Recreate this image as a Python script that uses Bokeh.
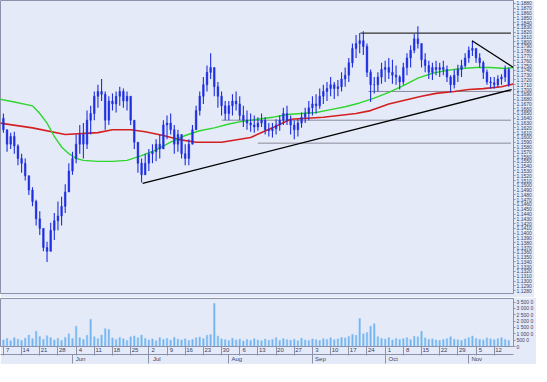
import pandas as pd
from bokeh.plotting import figure
from bokeh.layouts import column
from bokeh.models import (Range1d, LinearAxis, FixedTicker, SingleIntervalTicker,
                          PrintfTickFormatter, Label, ColumnDataSource)
from bokeh.embed import file_html
from bokeh.resources import INLINE

# ---------------- data ----------------
start_date = "2018-05-07"

open_ = [1.1640, 1.1616, 1.1586, 1.1602, 1.1582, 1.1556, 1.1546, 1.1520, 1.1490, 1.1466,
         1.1430, 1.1410, 1.1370, 1.1362, 1.1406, 1.1426, 1.1436, 1.1456, 1.1486, 1.1530,
         1.1556, 1.1586, 1.1606, 1.1586, 1.1636, 1.1650, 1.1686, 1.1696, 1.1690, 1.1636,
         1.1676, 1.1670, 1.1686, 1.1696, 1.1676, 1.1686, 1.1636, 1.1590, 1.1546, 1.1522,
         1.1546, 1.1566, 1.1570, 1.1586, 1.1576, 1.1626, 1.1630, 1.1616, 1.1586, 1.1606,
         1.1566, 1.1556, 1.1586, 1.1616, 1.1656, 1.1686, 1.1710, 1.1736, 1.1746, 1.1706,
         1.1686, 1.1666, 1.1650, 1.1666, 1.1676, 1.1670, 1.1646, 1.1636, 1.1630, 1.1626,
         1.1622, 1.1630, 1.1636, 1.1616, 1.1614, 1.1618, 1.1626, 1.1636, 1.1650, 1.1636,
         1.1626, 1.1616, 1.1630, 1.1642, 1.1650, 1.1662, 1.1670, 1.1666, 1.1686, 1.1696,
         1.1702, 1.1710, 1.1702, 1.1706, 1.1722, 1.1730, 1.1756, 1.1786, 1.1796, 1.1802,
         1.1790, 1.1736, 1.1710, 1.1710, 1.1726, 1.1742, 1.1746, 1.1736, 1.1730, 1.1726,
         1.1716, 1.1746, 1.1766, 1.1782, 1.1806, 1.1796, 1.1762, 1.1750, 1.1736, 1.1746,
         1.1742, 1.1746, 1.1742, 1.1726, 1.1710, 1.1730, 1.1742, 1.1750, 1.1766, 1.1782,
         1.1786, 1.1766, 1.1756, 1.1736, 1.1716, 1.1714, 1.1710, 1.1722, 1.1726, 1.1742]

high = [1.1650, 1.1616, 1.1610, 1.1612, 1.1586, 1.1566, 1.1556, 1.1520, 1.1496, 1.1470,
        1.1446, 1.1410, 1.1382, 1.1422, 1.1442, 1.1466, 1.1476, 1.1502, 1.1546, 1.1570,
        1.1606, 1.1626, 1.1630, 1.1656, 1.1666, 1.1696, 1.1710, 1.1722, 1.1696, 1.1686,
        1.1692, 1.1696, 1.1706, 1.1702, 1.1696, 1.1686, 1.1636, 1.1590, 1.1556, 1.1566,
        1.1576, 1.1586, 1.1596, 1.1606, 1.1636, 1.1646, 1.1650, 1.1626, 1.1616, 1.1606,
        1.1586, 1.1596, 1.1626, 1.1666, 1.1696, 1.1726, 1.1750, 1.1776, 1.1746, 1.1716,
        1.1696, 1.1676, 1.1676, 1.1690, 1.1696, 1.1686, 1.1666, 1.1656, 1.1650, 1.1646,
        1.1642, 1.1650, 1.1642, 1.1630, 1.1630, 1.1638, 1.1646, 1.1662, 1.1666, 1.1646,
        1.1636, 1.1638, 1.1652, 1.1662, 1.1676, 1.1686, 1.1690, 1.1702, 1.1710, 1.1716,
        1.1726, 1.1716, 1.1720, 1.1736, 1.1746, 1.1766, 1.1796, 1.1814, 1.1818, 1.1822,
        1.1796, 1.1742, 1.1726, 1.1736, 1.1756, 1.1760, 1.1766, 1.1762, 1.1750, 1.1730,
        1.1756, 1.1776, 1.1792, 1.1816, 1.1832, 1.1796, 1.1776, 1.1760, 1.1756, 1.1760,
        1.1756, 1.1760, 1.1750, 1.1730, 1.1742, 1.1752, 1.1762, 1.1776, 1.1790, 1.1802,
        1.1786, 1.1776, 1.1760, 1.1742, 1.1726, 1.1726, 1.1730, 1.1732, 1.1750, 1.1746]

low = [1.1610, 1.1570, 1.1576, 1.1566, 1.1542, 1.1526, 1.1510, 1.1480, 1.1456, 1.1416,
       1.1396, 1.1362, 1.1340, 1.1362, 1.1386, 1.1406, 1.1416, 1.1442, 1.1486, 1.1522,
       1.1546, 1.1566, 1.1556, 1.1576, 1.1606, 1.1636, 1.1662, 1.1676, 1.1616, 1.1626,
       1.1656, 1.1652, 1.1666, 1.1662, 1.1656, 1.1626, 1.1576, 1.1526, 1.1506, 1.1522,
       1.1530, 1.1546, 1.1550, 1.1556, 1.1576, 1.1596, 1.1606, 1.1566, 1.1570, 1.1556,
       1.1542, 1.1542, 1.1586, 1.1616, 1.1646, 1.1670, 1.1696, 1.1722, 1.1686, 1.1662,
       1.1646, 1.1636, 1.1636, 1.1646, 1.1656, 1.1636, 1.1622, 1.1616, 1.1612, 1.1610,
       1.1614, 1.1622, 1.1606, 1.1602, 1.1600, 1.1606, 1.1614, 1.1626, 1.1626, 1.1606,
       1.1596, 1.1602, 1.1620, 1.1630, 1.1636, 1.1646, 1.1650, 1.1660, 1.1670, 1.1676,
       1.1686, 1.1680, 1.1686, 1.1696, 1.1706, 1.1716, 1.1746, 1.1766, 1.1776, 1.1772,
       1.1726, 1.1674, 1.1692, 1.1696, 1.1712, 1.1716, 1.1722, 1.1712, 1.1710, 1.1700,
       1.1710, 1.1730, 1.1746, 1.1776, 1.1786, 1.1746, 1.1736, 1.1722, 1.1720, 1.1730,
       1.1726, 1.1730, 1.1716, 1.1694, 1.1702, 1.1716, 1.1726, 1.1746, 1.1756, 1.1770,
       1.1756, 1.1746, 1.1722, 1.1710, 1.1702, 1.1702, 1.1706, 1.1710, 1.1716, 1.1706]

close = [1.1616, 1.1586, 1.1602, 1.1582, 1.1556, 1.1546, 1.1520, 1.1490, 1.1466, 1.1430,
         1.1410, 1.1370, 1.1362, 1.1406, 1.1426, 1.1436, 1.1456, 1.1486, 1.1530, 1.1556,
         1.1586, 1.1606, 1.1586, 1.1636, 1.1650, 1.1686, 1.1696, 1.1690, 1.1636, 1.1676,
         1.1670, 1.1686, 1.1696, 1.1676, 1.1686, 1.1636, 1.1590, 1.1546, 1.1522, 1.1546,
         1.1566, 1.1570, 1.1586, 1.1576, 1.1626, 1.1630, 1.1616, 1.1586, 1.1606, 1.1566,
         1.1556, 1.1586, 1.1616, 1.1656, 1.1686, 1.1710, 1.1736, 1.1746, 1.1706, 1.1686,
         1.1666, 1.1650, 1.1666, 1.1676, 1.1670, 1.1646, 1.1636, 1.1630, 1.1626, 1.1622,
         1.1630, 1.1636, 1.1616, 1.1614, 1.1618, 1.1626, 1.1636, 1.1650, 1.1636, 1.1626,
         1.1616, 1.1630, 1.1642, 1.1650, 1.1662, 1.1670, 1.1666, 1.1686, 1.1696, 1.1702,
         1.1710, 1.1702, 1.1706, 1.1722, 1.1730, 1.1756, 1.1786, 1.1796, 1.1802, 1.1790,
         1.1736, 1.1710, 1.1710, 1.1726, 1.1742, 1.1746, 1.1736, 1.1730, 1.1726, 1.1716,
         1.1746, 1.1766, 1.1782, 1.1806, 1.1796, 1.1762, 1.1750, 1.1736, 1.1746, 1.1742,
         1.1746, 1.1742, 1.1726, 1.1710, 1.1730, 1.1742, 1.1750, 1.1766, 1.1782, 1.1786,
         1.1766, 1.1756, 1.1736, 1.1716, 1.1714, 1.1710, 1.1722, 1.1726, 1.1742, 1.1710]

volume = [520, 640, 450, 700, 580, 480, 660, 900, 620, 1210,
          780, 560, 840, 700, 520, 650, 480, 720, 1000, 640,
          1600, 700, 560, 880, 2150, 760, 620, 900, 1400, 1350,
          680, 540, 720, 610, 480, 760, 830, 690, 900, 640,
          520, 600, 460, 700, 560, 640, 500, 730, 580, 520,
          610, 480, 560, 690, 740, 620, 880, 940, 3400, 820,
          600, 540, 470, 650, 520, 580, 430, 560, 480, 610,
          520, 450, 590, 500, 560, 700, 480, 620, 540, 500,
          570, 460, 650, 520, 480, 600, 530, 470, 620, 560,
          690, 540, 600, 720, 680, 800, 950, 880, 2200, 1000,
          1100, 1600, 1800, 760, 640, 580, 700, 520, 640, 560,
          620, 700, 540, 800, 760, 1200, 680, 560, 600, 520,
          480, 560, 620, 760, 580, 540, 470, 600, 700, 820,
          640, 560, 520, 680, 600, 540, 620, 700, 560, 480]

# moving averages read at bar positions
green_pos = [-1, 3, 8, 10, 12, 14, 16, 18, 20, 22, 26, 30, 34, 38, 42, 46, 50, 54, 58, 62,
             66, 70, 74, 78, 82, 86, 90, 94, 98, 102, 106, 110, 114, 118, 122, 126, 130,
             134, 138, 140.5]
green_val = [1.1680, 1.1674, 1.1666, 1.1650, 1.1630, 1.1602, 1.1580, 1.1566, 1.1556, 1.1552,
             1.1550, 1.1550, 1.1552, 1.1562, 1.1574, 1.1590, 1.1604, 1.1614, 1.1620, 1.1628,
             1.1634, 1.1638, 1.1642, 1.1648, 1.1650, 1.1652, 1.1658, 1.1664, 1.1672, 1.1682,
             1.1694, 1.1708, 1.1724, 1.1734, 1.1740, 1.1744, 1.1746, 1.1746, 1.1744, 1.1746]
red_pos = [-1, 8, 17, 26, 30, 35, 39, 44, 48, 53, 60, 68, 74, 79, 88, 97, 101, 106, 115,
           119, 124, 128, 132, 137, 140.5]
red_val = [1.1630, 1.1620, 1.1606, 1.1610, 1.1616, 1.1616, 1.1612, 1.1604, 1.1596, 1.1590,
           1.1590, 1.1600, 1.1620, 1.1638, 1.1642, 1.1650, 1.1656, 1.1670, 1.1686, 1.1692,
           1.1696, 1.1700, 1.1702, 1.1706, 1.1712]

# drawn lines (bar position, price)
support_pos = [38.3, 139.8]
support_val = [1.1504, 1.1700]
resist_pos = [128.9, 140.3]
resist_val = [1.1802, 1.1746]
top_pos = [98.2, 139.6]
top_val = [1.1818, 1.1818]
level_vals = [1.1696, 1.1636, 1.1588]
level_start = [100.4, 60.0, 70.0]
level_end = 139.6

last_price_label = "1.1710"
last_price = 1.1710

week_labels = ["7", "14", "21", "28", "4", "11", "18", "25", "2", "9", "16", "23", "30",
               "6", "13", "20", "27", "3", "10", "17", "24", "1", "8", "15", "22", "29",
               "5", "12"]
month_labels = ["Jun", "Jul", "Aug", "Sep", "Oct", "Nov"]

vol_ticks = [0, 500, 1000, 1500, 2000, 2500, 3000, 3500]
vol_labels = ["0", "500 0", "1 000 0", "1 500 0", "2 000 0", "2 500 0", "3 000 0", "3 500 0"]

# ---------------- styles ----------------
BG = "#e4eaf8"
FRAME = "#8c92ac"
BLUE = "#1f2fe0"
FONT = "Liberation Sans"
FW = 513

dates = pd.bdate_range(start_date, periods=len(close))
idx = list(range(len(close)))
mondays = [i for i, d in enumerate(dates) if d.weekday() == 0]
month_starts = [i for i in range(1, len(dates)) if dates[i].month != dates[i - 1].month]

src = ColumnDataSource(dict(x=idx, o=open_, h=high, l=low, c=close, v=volume))

x_range = Range1d(-0.8, 140.3)


def style_y(ax):
    ax.major_label_text_font_size = "5px"
    ax.major_label_text_font = FONT
    ax.major_label_text_color = "#404060"
    ax.major_tick_out = 2
    ax.major_tick_in = 0
    ax.minor_tick_out = 0
    ax.minor_tick_in = 0
    ax.major_tick_line_color = FRAME
    ax.axis_line_color = FRAME
    ax.major_label_standoff = 1


p1 = figure(frame_width=FW, frame_height=293, x_range=x_range,
            y_range=Range1d(1.1274, 1.1886),
            output_backend="svg", toolbar_location=None, x_axis_location=None,
            y_axis_location="right", min_border_left=0, min_border_right=0,
            min_border_top=0, min_border_bottom=4,
            background_fill_color=BG, border_fill_color=BG, outline_line_color=FRAME)
p1.grid.visible = False
ya = p1.yaxis[0]
ya.ticker = SingleIntervalTicker(interval=0.001, num_minor_ticks=0)
ya.formatter = PrintfTickFormatter(format="%.4f")
style_y(ya)

for lv, ls in zip(level_vals, level_start):
    p1.line([ls, level_end], [lv, lv], line_color="#8a8a9a", line_width=1)
p1.line(top_pos, top_val, line_color="#333333", line_width=1.2)

p1.line(red_pos, red_val, line_color="#d42020", line_width=1.6)
p1.line(green_pos, green_val, line_color="#2fd62f", line_width=1.4)

p1.segment(x0="x", y0="h", x1="x", y1="l", source=src, line_color=BLUE, line_width=1.1)
p1.vbar(x="x", top="o", bottom="c", width=0.45, source=src, fill_color=BLUE,
        line_color=BLUE, line_width=0.5)

p1.line(support_pos, support_val, line_color="black", line_width=1.3)
p1.line(resist_pos, resist_val, line_color="black", line_width=1.3)

lbl = Label(x=140.3, y=last_price, x_offset=1, text=last_price_label,
            text_font_size="5px", text_font=FONT, text_baseline="middle",
            background_fill_color="white", border_line_color="#3050d0",
            text_color="#203080")
p1.add_layout(lbl)

p2 = figure(frame_width=FW, frame_height=48, x_range=x_range, y_range=Range1d(0, 3788),
            output_backend="svg", toolbar_location=None, x_axis_location=None,
            y_axis_location="right", min_border_left=0, min_border_right=0,
            min_border_top=1, min_border_bottom=0,
            background_fill_color=BG, border_fill_color=BG, outline_line_color=FRAME)
p2.grid.visible = False
va = p2.yaxis[0]
va.ticker = FixedTicker(ticks=vol_ticks)
va.major_label_overrides = {t: s for t, s in zip(vol_ticks, vol_labels)}
style_y(va)

p2.vbar(x="x", top="v", bottom=0, width=0.4, source=src, fill_color="#6aaeee",
        line_color="#8cc4f4", line_width=0.6)

day_pos = [m + 1.2 for m in mondays]
day_axis = LinearAxis(ticker=FixedTicker(ticks=day_pos, minor_ticks=mondays),
                      major_label_overrides={p: s for p, s in zip(day_pos, week_labels)})
mon_pos = [m + 2.2 for m in month_starts]
mon_axis = LinearAxis(ticker=FixedTicker(ticks=mon_pos, minor_ticks=month_starts),
                      major_label_overrides={p: s for p, s in zip(mon_pos, month_labels)})
for ax in (day_axis, mon_axis):
    ax.major_tick_out = 0
    ax.major_tick_in = 0
    ax.minor_tick_out = 9
    ax.minor_tick_in = 0
    ax.minor_tick_line_color = FRAME
    ax.axis_line_color = FRAME
    ax.major_label_standoff = -8
    ax.major_label_text_font_size = "6px"
    ax.major_label_text_font = FONT
    ax.major_label_text_color = "#404060"
    p2.add_layout(ax, "below")

layout = column(p1, p2, spacing=0)
open("out.html", "w").write(file_html(layout, INLINE))
